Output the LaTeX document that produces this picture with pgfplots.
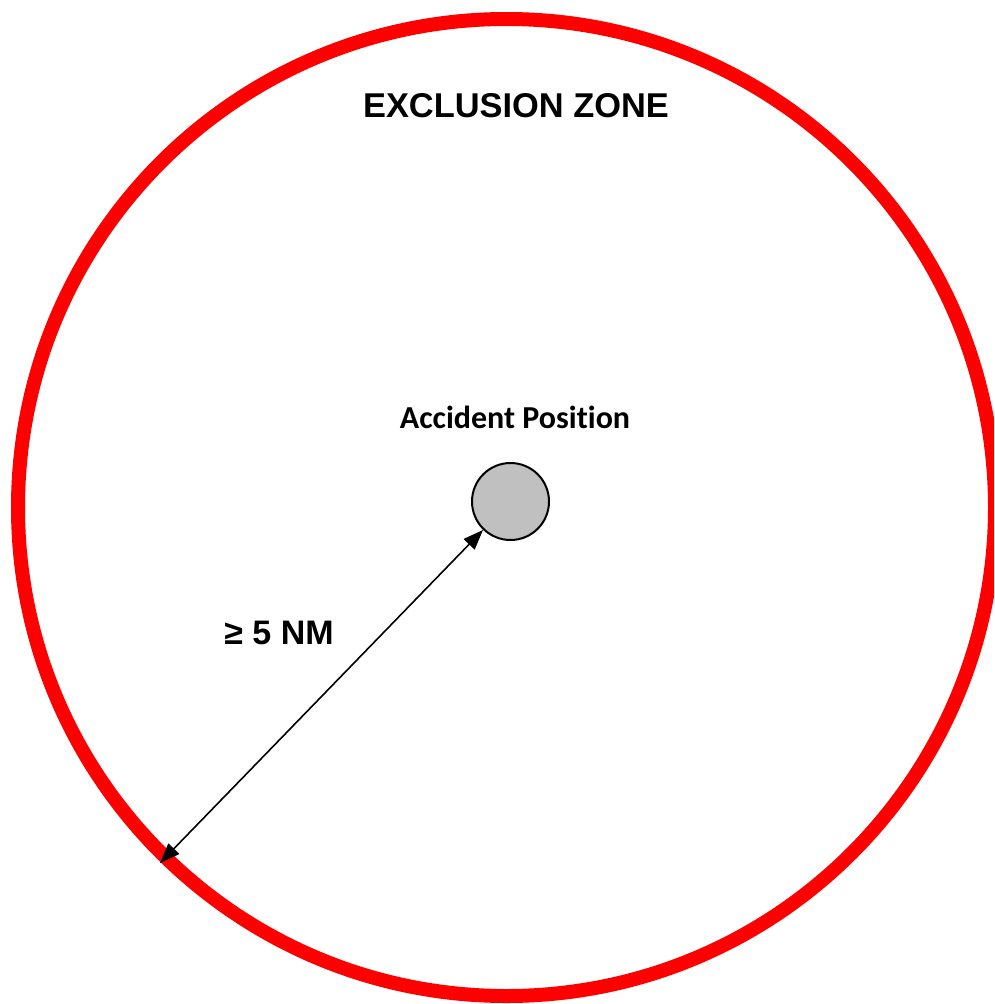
\documentclass[border=0pt]{standalone}
\usepackage{fontspec}
\setmainfont{Liberation Sans}
\newfontfamily\carlito[Ligatures=NoCommon]{Carlito}
\usepackage{pgfplots}
\pgfplotsset{compat=1.18}
\usetikzlibrary{arrows.meta}
\definecolor{zonered}{RGB}{255,0,0}
\definecolor{accgray}{RGB}{192,192,192}
\begin{document}
\begin{tikzpicture}
\begin{axis}[
  width=994pt, height=1004pt, scale only axis,
  xmin=0, xmax=994, ymin=0, ymax=1004, y dir=reverse,
  hide axis, clip=true, clip marker paths=true,
]
% exclusion zone boundary (centre, radius as mark size)
\addplot[only marks, mark=o, mark size=488.5pt, mark options={draw=zonered, line width=14pt}]
  coordinates {(506.5,507.5)};
% accident position
\addplot[only marks, mark=*, mark size=38.5pt, mark options={draw=black, fill=accgray, line width=2pt}]
  coordinates {(510.5,501.5)};
% distance arrow
\addplot[black, line width=1.6pt, {Triangle[length=20pt,width=15pt]}-{Triangle[length=20pt,width=15pt]}]
  coordinates {(160,863) (483,530)};
\node[font=\fontsize{34.4}{40}\selectfont\bfseries] at (axis cs:516,106) {EXCLUSION ZONE};
\node[font=\fontsize{32}{38}\selectfont\carlito\bfseries] at (axis cs:515,417) {Accident Position};
\node[font=\fontsize{34}{40}\selectfont\bfseries] at (axis cs:279,633) {≥ 5 NM};
\end{axis}
\pgfresetboundingbox
\path[use as bounding box] (current axis.south west) rectangle (current axis.north east);
\end{tikzpicture}
\end{document}
